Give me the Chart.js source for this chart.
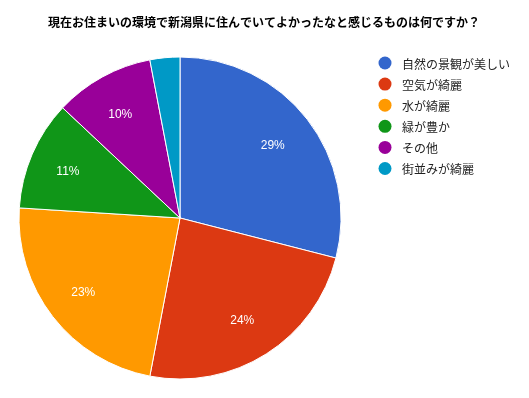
<!DOCTYPE html>
<html>
<head>
<meta charset="utf-8">
<script src="https://cdn.jsdelivr.net/npm/chart.js@4.4.0/dist/chart.umd.min.js"></script>
<style>
  html, body { margin: 0; padding: 0; background: #fff; }
  canvas { display: block; }
</style>
</head>
<body>
<canvas id="pieChart" width="529" height="398"></canvas>
<script>
// Chart data
const chartTitle = '現在お住まいの環境で新潟県に住んでいてよかったなと感じるものは何ですか？';
const categories = ['自然の景観が美しい', '空気が綺麗', '水が綺麗', '緑が豊か', 'その他', '街並みが綺麗'];
const shares = [29, 24, 23, 11, 10, 3];
const sliceColors = ['#3366cc', '#dc3912', '#ff9900', '#109618', '#990099', '#0099c6'];

const jpFont = '"Noto Sans CJK JP", "Noto Sans", Arial, sans-serif';

// Title, legend and percent labels drawn by hand (Google Charts look)
const decorations = {
    id: 'decorations',
    afterDraw(chart) {
        const ctx = chart.ctx;
        ctx.save();

        // Title
        ctx.fillStyle = '#000';
        ctx.font = 'bold 12px ' + jpFont;
        ctx.textAlign = 'center';
        ctx.textBaseline = 'middle';
        ctx.fillText(chartTitle, 264, 22);

        // Percent labels inside slices
        const meta = chart.getDatasetMeta(0);
        const total = shares.reduce((a, b) => a + b, 0);
        ctx.font = '12px Arial, "Liberation Sans", sans-serif';
        ctx.fillStyle = '#fff';
        meta.data.forEach((arc, i) => {
            const pct = Math.round(shares[i] / total * 100);
            if (pct < 5) return;
            const mid = (arc.startAngle + arc.endAngle) / 2;
            const r = arc.outerRadius * 0.745;
            ctx.fillText(pct + '%', arc.x - 2 + Math.cos(mid) * r, arc.y + 1.5 + Math.sin(mid) * r);
        });

        // Legend
        ctx.textAlign = 'left';
        ctx.font = '12px ' + jpFont;
        categories.forEach((label, i) => {
            const y = 63 + i * 21.1;
            ctx.fillStyle = sliceColors[i];
            ctx.beginPath();
            ctx.arc(385, y, 6.5, 0, Math.PI * 2);
            ctx.fill();
            ctx.fillStyle = '#222';
            ctx.fillText(label, 402, y + 1);
        });

        ctx.restore();
    }
};

const ctx = document.getElementById('pieChart').getContext('2d');
new Chart(ctx, {
    type: 'pie',
    data: {
        labels: categories,
        datasets: [{
            data: shares,
            backgroundColor: sliceColors,
            borderColor: '#fff',
            borderWidth: 1
        }]
    },
    options: {
        responsive: false,
        animation: false,
        layout: {
            padding: { left: 18.5, top: 56.5, right: 187.5, bottom: 18.5 }
        },
        plugins: {
            legend: { display: false },
            title: { display: false },
            tooltip: { enabled: false }
        }
    },
    plugins: [decorations]
});
</script>
</body>
</html>
